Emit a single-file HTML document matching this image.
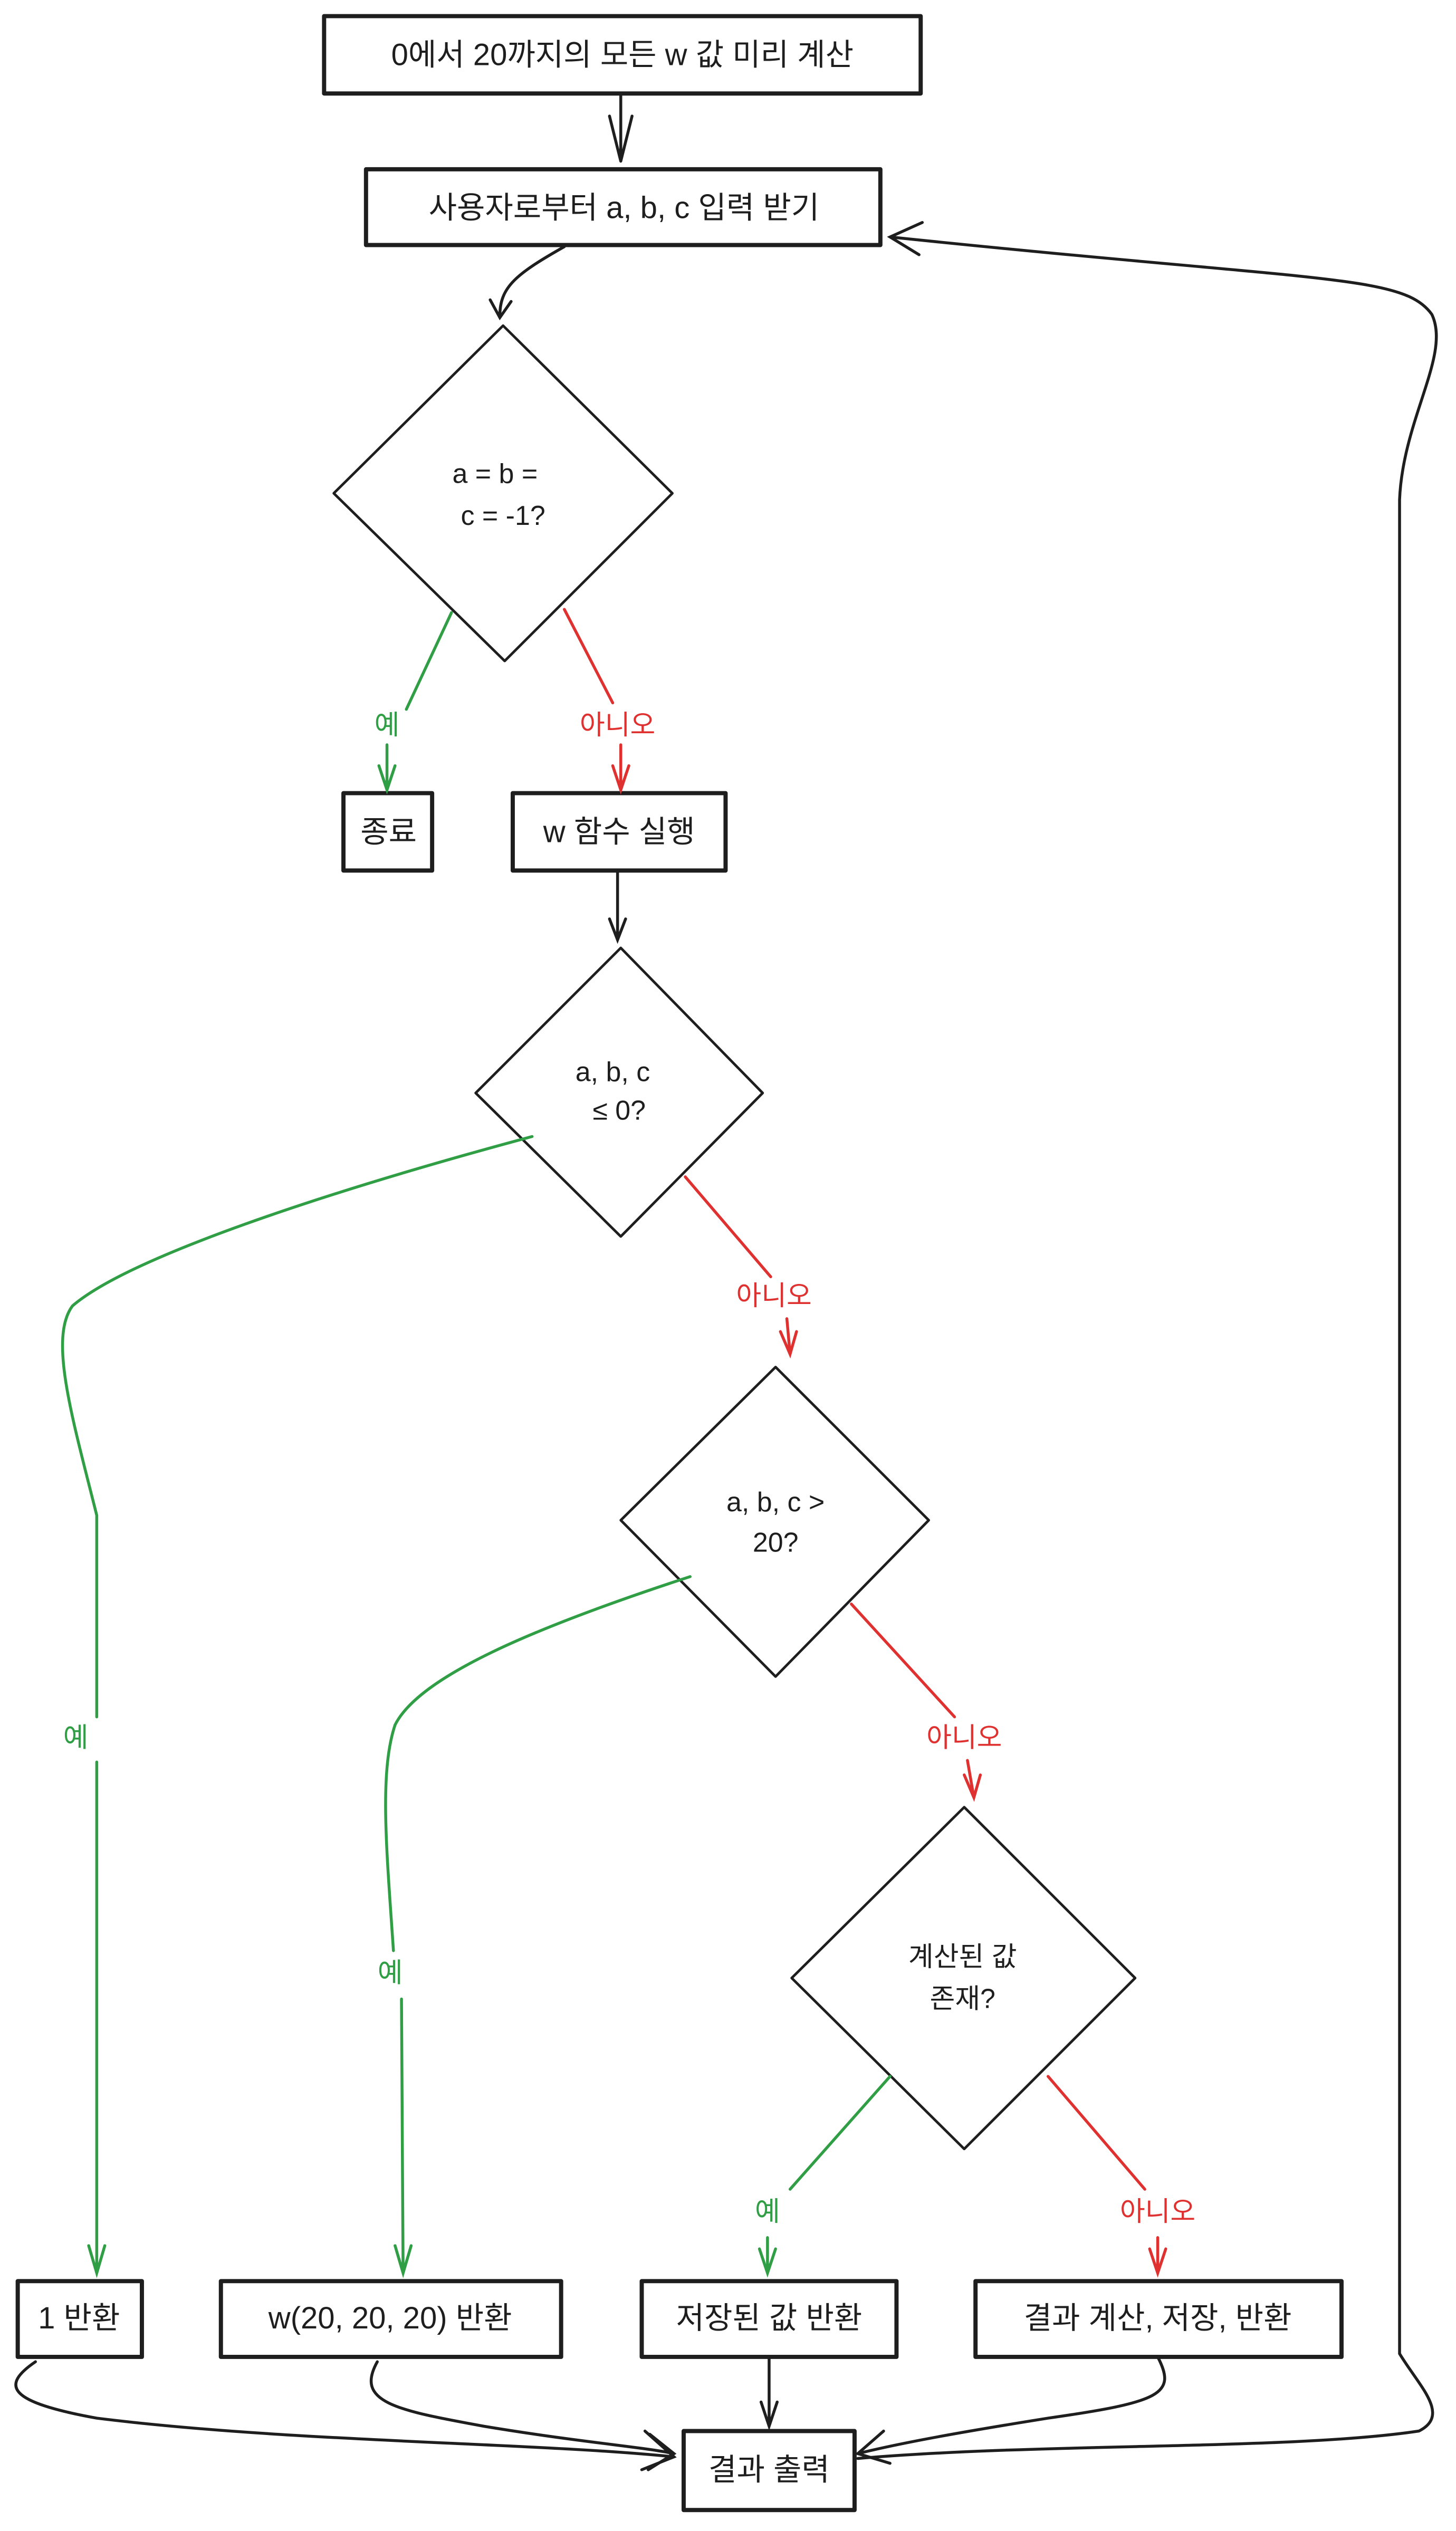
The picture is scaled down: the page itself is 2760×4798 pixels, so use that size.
<!DOCTYPE html>
<html><head><meta charset="utf-8"><style>
html,body{margin:0;padding:0;background:#fff;}
svg{display:block;}
text{font-family:"Liberation Sans","Noto Sans CJK KR",sans-serif;fill:#1e1e1e;text-anchor:middle;dominant-baseline:central;}
</style></head><body>
<svg width="2760" height="4798" viewBox="0 0 903 1570" preserveAspectRatio="none" xmlns="http://www.w3.org/2000/svg">
<rect width="903" height="1570" fill="#fff"/>
<g fill="none" stroke="#1e1e1e" stroke-width="2.6" stroke-linejoin="round">
<rect x="201" y="10" width="370" height="48"/>
<rect x="227" y="105" width="319" height="47"/>
<rect x="213" y="492" width="55" height="48"/>
<rect x="318" y="492" width="132" height="48"/>
<rect x="11" y="1415" width="77" height="47"/>
<rect x="137" y="1415" width="211" height="47"/>
<rect x="398" y="1415" width="158" height="47"/>
<rect x="605" y="1415" width="227" height="47"/>
<rect x="424" y="1508" width="106" height="49"/>
</g>
<g fill="none" stroke="#1e1e1e" stroke-width="1.6" stroke-linejoin="round">
<polygon points="312,202 417,306 313,410 207,306"/>
<polygon points="385,588 473,678 385,767 295,678"/>
<polygon points="481,848 576,943 481,1040 385,943"/>
<polygon points="598,1121 704,1227 598,1333 491,1227"/>
</g>
<g fill="none" stroke="#1e1e1e" stroke-width="1.8" stroke-linecap="round">
<path d="M385,58 L385,100 M378,72 L385,100 L392,72"/>
<path d="M350,153 C320,170 310,178 310,196 M304,186 L310,197 L317,187"/>
<path d="M383,540 L383,583 M378,570 L383,583 L388,570"/>
<path d="M22,1465 C0,1480 5,1490 60,1500 C180,1515 330,1515 418,1524 M400,1508 L418,1524 L398,1532"/>
<path d="M234,1465 C220,1490 245,1495 300,1505 C360,1515 400,1518 418,1522 M403,1510 L418,1522 L402,1532"/>
<path d="M477,1462 L477,1505 M472,1490 L477,1505 L482,1490"/>
<path d="M718,1462 C730,1485 720,1490 650,1500 C600,1508 560,1515 532,1522 M548,1508 L532,1522 L552,1528"/>
<path d="M532,1525 C650,1515 800,1520 880,1508 C900,1498 880,1480 868,1460 L868,310 C870,260 900,220 888,195 C870,170 820,175 552,147 M572,138 L552,147 L570,158"/>
</g>
<g fill="none" stroke="#2f9e44" stroke-width="1.8" stroke-linecap="round">
<path d="M280,380 L252,440 M240,462 L240,490 M235,475 L240,490 L245,475"/>
<path d="M330,705 C200,740 80,780 45,810 C30,830 45,880 60,940 L60,1065 M60,1093 L60,1410 M55,1393 L60,1410 L65,1393"/>
<path d="M428,978 C330,1010 260,1040 245,1070 C235,1100 240,1150 244,1210 M249,1240 L250,1410 M245,1393 L250,1410 L255,1393"/>
<path d="M552,1288 L490,1358 M476,1388 L476,1410 M471,1395 L476,1410 L481,1395"/>
</g>
<g fill="none" stroke="#e03131" stroke-width="1.8" stroke-linecap="round">
<path d="M350,378 L380,436 M385,462 L385,490 M380,475 L385,490 L390,475"/>
<path d="M425,730 L478,792 M488,818 L490,840 M484,826 L490,840 L494,826"/>
<path d="M528,995 L592,1065 M600,1092 L604,1115 M598,1101 L604,1115 L608,1101"/>
<path d="M650,1288 L710,1358 M718,1388 L718,1410 M713,1395 L718,1410 L723,1395"/>
</g>
<g font-size="19">
<text x="386" y="34">0에서 20까지의 모든 w 값 미리 계산</text>
<text x="387" y="129">사용자로부터 a, b, c 입력 받기</text>
<text x="307" y="294" font-size="17">a = b =</text>
<text x="312" y="320" font-size="17">c = -1?</text>
<text x="241" y="516">종료</text>
<text x="384" y="516">w 함수 실행</text>
<text x="380" y="665" font-size="17">a, b, c</text>
<text x="384" y="689" font-size="17">≤ 0?</text>
<text x="481" y="932" font-size="17">a, b, c &gt;</text>
<text x="481" y="957" font-size="17">20?</text>
<text x="597" y="1214" font-size="17">계산된 값</text>
<text x="597" y="1240" font-size="17">존재?</text>
<text x="49" y="1438">1 반환</text>
<text x="242" y="1438">w(20, 20, 20) 반환</text>
<text x="477" y="1438">저장된 값 반환</text>
<text x="718" y="1438">결과 계산, 저장, 반환</text>
<text x="477" y="1532">결과 출력</text>
</g>
<g font-size="17">
<text x="240" y="450" style="fill:#2f9e44">예</text>
<text x="383" y="450" style="fill:#e03131">아니오</text>
<text x="47" y="1078" style="fill:#2f9e44">예</text>
<text x="480" y="804" style="fill:#e03131">아니오</text>
<text x="242" y="1224" style="fill:#2f9e44">예</text>
<text x="598" y="1078" style="fill:#e03131">아니오</text>
<text x="476" y="1372" style="fill:#2f9e44">예</text>
<text x="718" y="1372" style="fill:#e03131">아니오</text>
</g>
</svg>
</body></html>
